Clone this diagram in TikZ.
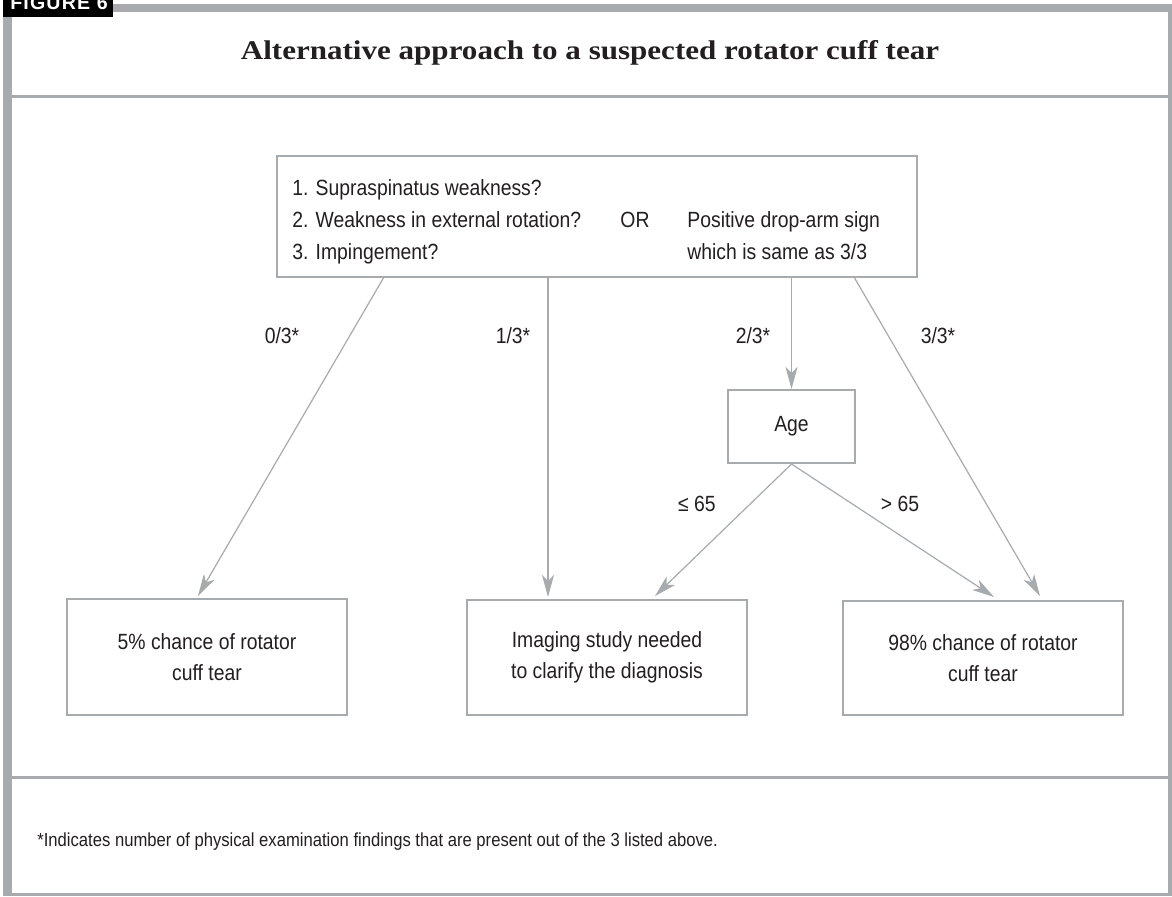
\documentclass[tikz,border=0pt]{standalone}
\usepackage{fontspec}
\setmainfont{Liberation Sans}[FakeStretch=0.88]
\newfontfamily\titlefont{Liberation Serif}[FakeStretch=1.15]
\newfontfamily\tabfont{Liberation Sans}[LetterSpace=6]
\usetikzlibrary{arrows.meta}
\definecolor{framegray}{HTML}{A7ABAE}
\definecolor{inkgray}{HTML}{231F20}

\begin{document}
\begin{tikzpicture}[x=0.5pt,y=-0.5pt,
	box/.style={draw=framegray, line width=1pt, inner sep=0pt, text=inkgray, align=center, font=\fontsize{11}{15.5}\selectfont},
	lbl/.style={text=inkgray, inner sep=0pt, font=\fontsize{11}{13}\selectfont},
	arr/.style={draw=framegray, line width=0.6pt, -{Stealth[length=11pt,width=6pt,inset=3pt]}}]
			\useasboundingbox (0,0) rectangle (1172,896);
			%frame
			\fill[framegray] (3,4) rectangle (1172,896);
			\fill[white] (12,12) rectangle (1168,95);
			\fill[white] (12,98) rectangle (1168,776);
			\fill[white] (12,779) rectangle (1168,893);
			\fill[black] (3,-5) rectangle (113,17);
			\node[text=white, inner sep=0pt, anchor=base, font=\tabfont\bfseries\fontsize{9.8}{12}\selectfont] (tab) at (59,9) {FIGURE 6};

			\node[text=inkgray, inner sep=0pt, anchor=base, font=\titlefont\bfseries\fontsize{13.5}{16}\selectfont] (title) at (590,59) {Alternative approach to a suspected rotator cuff tear};

			\node[box, minimum width=320pt, minimum height=60.5pt] (q) at (597,216.5) {};
			\node[box, minimum width=63.5pt, minimum height=36.5pt] (age) at (791.5,426.5) {Age};
			\node[box, minimum width=140pt, minimum height=58pt] (low) at (207,657) {5\% chance of rotator\\cuff tear};
			\node[box, minimum width=140pt, minimum height=57.5pt] (img) at (607,657.5) {Imaging study needed\\to clarify the diagnosis};
			\node[box, minimum width=140pt, minimum height=57pt] (high) at (983,658) {98\% chance of rotator\\cuff tear};

			\node[lbl, anchor=base west] (q1) at (292,195) {1. Supraspinatus weakness?};
			\node[lbl, anchor=base west] (q2) at (292,227) {2. Weakness in external rotation?};
			\node[lbl, anchor=base west] (q3) at (292,259) {3. Impingement?};
			\node[lbl, anchor=base] (or) at (635,227) {OR};
			\node[lbl, anchor=base west] (q4) at (687,227) {Positive drop-arm sign};
			\node[lbl, anchor=base west] (q5) at (687,259) {which is same as 3/3};

			\coordinate (q-a) at (384,277);
			\coordinate (q-b) at (548,277);
			\coordinate (q-d) at (854,277);
			\coordinate (low-n) at (198,596);
			\coordinate (img-n) at (548,597);
			\coordinate (img-ne) at (655,596);
			\coordinate (high-nw) at (994,597);
			\coordinate (high-n) at (1040,596);

			\draw[arr] (q-a) -- (low-n);
			\draw[arr] (q-b) -- (img-n);
			\draw[arr] (age.north |- q.south) -- (age.north);
			\draw[arr] (q-d) -- (high-n);
			\draw[arr] (age.south) -- (img-ne);
			\draw[arr] (age.south) -- (high-nw);

			\node[lbl] (l0) at (282,336) {0/3*};
			\node[lbl] (l1) at (513,336) {1/3*};
			\node[lbl] (l2) at (753,336) {2/3*};
			\node[lbl] (l3) at (938,336) {3/3*};
			\node[lbl] (le) at (697,504) {≤ 65};
			\node[lbl] (gt) at (900,504) {> 65};

			\node[lbl, anchor=west, font=\fontsize{9.45}{11}\selectfont] (note) at (37,842) {*Indicates number of physical examination findings that are present out of the 3 listed above.};
		\end{tikzpicture}
\end{document}
